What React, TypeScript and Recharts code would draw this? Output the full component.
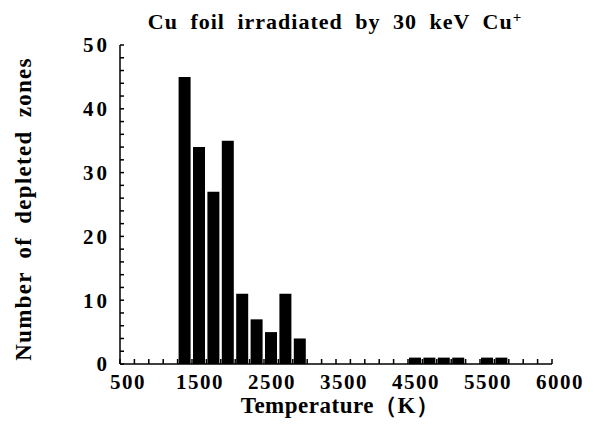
import { ComposedChart, Bar, XAxis, YAxis } from 'recharts';

// bin centres (K) and counts
const binCenters = [900, 1100, 1300, 1500, 1700, 1900, 2100, 2300, 2500, 4100, 4300, 4500, 4700, 5100, 5300];
const counts = [45, 34, 27, 35, 11, 7, 5, 11, 4, 1, 1, 1, 1, 1, 1];

// labelled x positions and what the figure prints under them
const xLabelPositions = [0, 1000, 2000, 3000, 4000, 5000, 6000];
const xTickLabels = ['500', '1500', '2500', '3500', '4500', '5500', '6000'];
const yTickLabels = [0, 10, 20, 30, 40, 50];

const data = binCenters.map((t, i) => ({ t, n: counts[i] }));

const xMinor = Array.from({ length: 31 }, (_, i) => i * 200);
const yMinor = Array.from({ length: 26 }, (_, i) => i * 2);

const FONT = '"Liberation Serif", "Times New Roman", serif';
const W = 580;
const H = 415;

const bold = { fontFamily: FONT, fontWeight: 700 };

function XTick(props: any) {
  const { x, y, payload } = props;
  const idx = xLabelPositions.indexOf(payload.value);
  if (idx < 0) return null;
  return (
    <text x={x + 8} y={y} textAnchor="middle" style={bold} fontSize={21} letterSpacing={1.5} fill="#000">
      {xTickLabels[idx]}
    </text>
  );
}

function YTick(props: any) {
  const { x, y, payload } = props;
  if (!yTickLabels.includes(payload.value)) return null;
  return (
    <text x={x} y={y} dy="0.35em" textAnchor="end" style={bold} fontSize={21} letterSpacing={3} fill="#000">
      {payload.value}
    </text>
  );
}

export default function App() {
  return (
    <div style={{ position: 'relative', width: W, height: H }}>
      <ComposedChart width={W} height={H} data={data} margin={{ top: 37, right: 36, bottom: 0, left: 0 }}>
        <XAxis
          xAxisId="b"
          dataKey="t"
          type="number"
          domain={[0, 6000]}
          ticks={xMinor}
          interval={0}
          height={59}
          stroke="#000"
          strokeWidth={1.5}
          tickSize={-5}
          tickMargin={30}
          tick={<XTick />}
        />
        <XAxis
          xAxisId="t"
          dataKey="t"
          type="number"
          orientation="top"
          domain={[0, 6000]}
          ticks={xMinor}
          interval={0}
          height={0}
          stroke="#000"
          strokeWidth={1.5}
          tickSize={-5}
          tick={false}
        />
        <YAxis
          yAxisId="l"
          type="number"
          domain={[0, 50]}
          ticks={yMinor}
          interval={0}
          width={112}
          stroke="#000"
          strokeWidth={1.5}
          tickSize={-4}
          tickMargin={14}
          tick={<YTick />}
        />
        <YAxis
          yAxisId="r"
          orientation="right"
          type="number"
          domain={[0, 50]}
          ticks={yMinor}
          interval={0}
          width={0}
          stroke="#000"
          strokeWidth={1.5}
          tickSize={-4}
          tick={false}
        />
        <Bar xAxisId="b" yAxisId="l" dataKey="n" fill="#000" barSize={12} isAnimationActive={false} />
      </ComposedChart>
      <svg width={W} height={H} style={{ position: 'absolute', left: 0, top: 0, pointerEvents: 'none', overflow: 'visible' }}>
        <text x={327} y={21} textAnchor="middle" style={bold} fontSize={22} letterSpacing={1} wordSpacing={6} fill="#000">
          Cu foil irradiated by 30 keV Cu<tspan dy={-7} fontSize={15}>+</tspan>
        </text>
        <text x={332} y={405} textAnchor="middle" style={bold} fontSize={23} letterSpacing={0.5} fill="#000">
          Temperature（K）
        </text>
        <text
          transform="translate(23,201) rotate(-90)"
          x={0}
          y={0}
          textAnchor="middle"
          style={bold}
          fontSize={23}
          letterSpacing={1.3}
          wordSpacing={6}
          fill="#000"
        >
          Number of depleted zones
        </text>
      </svg>
    </div>
  );
}
